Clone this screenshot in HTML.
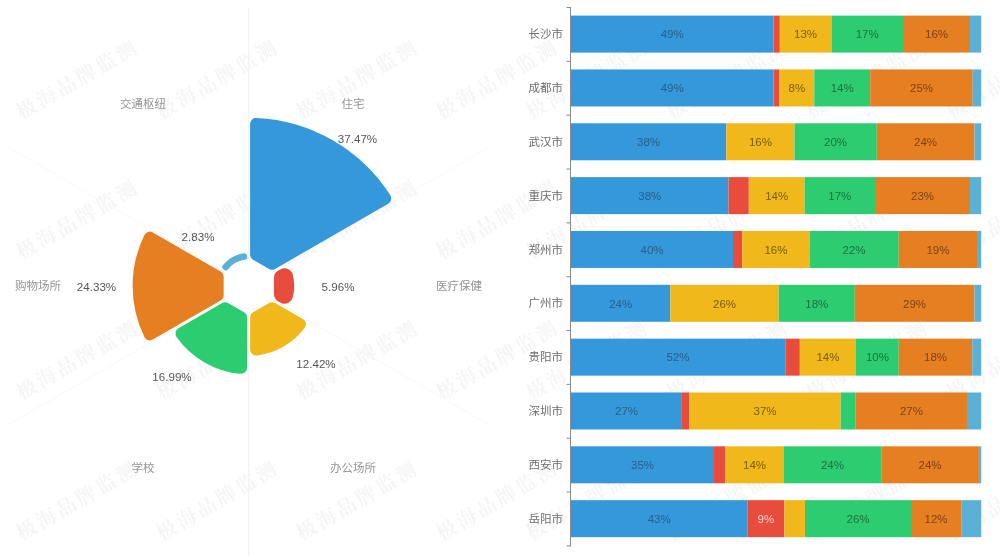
<!DOCTYPE html>
<html lang="zh"><head><meta charset="utf-8"><title>chart</title>
<style>
html,body{margin:0;padding:0;background:#fff;}
body{width:1000px;height:556px;overflow:hidden;font-family:"Liberation Sans","Noto Sans CJK SC",sans-serif;}
svg{display:block}
.cat{font-size:11.5px;fill:#949494;font-family:"Liberation Sans","Noto Sans CJK SC",sans-serif;}
.val{font-size:11.6px;fill:#555;font-family:"Liberation Sans","Noto Sans CJK SC",sans-serif;}
.city{font-size:11.5px;fill:#6e6e6e;font-family:"Liberation Sans","Noto Sans CJK SC",sans-serif;}
.bl{font-size:11.5px;font-family:"Liberation Sans","Noto Sans CJK SC",sans-serif;}
.wm{font-size:20px;fill:#f5f5f5;font-weight:700;font-family:"Liberation Serif","Noto Serif CJK SC",serif;letter-spacing:3px}
</style></head><body>
<svg width="1000" height="556" viewBox="0 0 1000 556">
<rect width="1000" height="556" fill="#fff"/>
<g><text x="81" y="85.5" text-anchor="middle" class="wm" transform="rotate(-30 81 85.5)">极海品牌监测</text><text x="81" y="225.8" text-anchor="middle" class="wm" transform="rotate(-30 81 225.8)">极海品牌监测</text><text x="81" y="366.1" text-anchor="middle" class="wm" transform="rotate(-30 81 366.1)">极海品牌监测</text><text x="81" y="506.40000000000003" text-anchor="middle" class="wm" transform="rotate(-30 81 506.40000000000003)">极海品牌监测</text><text x="221" y="85.5" text-anchor="middle" class="wm" transform="rotate(-30 221 85.5)">极海品牌监测</text><text x="221" y="225.8" text-anchor="middle" class="wm" transform="rotate(-30 221 225.8)">极海品牌监测</text><text x="221" y="366.1" text-anchor="middle" class="wm" transform="rotate(-30 221 366.1)">极海品牌监测</text><text x="221" y="506.40000000000003" text-anchor="middle" class="wm" transform="rotate(-30 221 506.40000000000003)">极海品牌监测</text><text x="361" y="85.5" text-anchor="middle" class="wm" transform="rotate(-30 361 85.5)">极海品牌监测</text><text x="361" y="225.8" text-anchor="middle" class="wm" transform="rotate(-30 361 225.8)">极海品牌监测</text><text x="361" y="366.1" text-anchor="middle" class="wm" transform="rotate(-30 361 366.1)">极海品牌监测</text><text x="361" y="506.40000000000003" text-anchor="middle" class="wm" transform="rotate(-30 361 506.40000000000003)">极海品牌监测</text><text x="501" y="85.5" text-anchor="middle" class="wm" transform="rotate(-30 501 85.5)">极海品牌监测</text><text x="501" y="225.8" text-anchor="middle" class="wm" transform="rotate(-30 501 225.8)">极海品牌监测</text><text x="501" y="366.1" text-anchor="middle" class="wm" transform="rotate(-30 501 366.1)">极海品牌监测</text><text x="501" y="506.40000000000003" text-anchor="middle" class="wm" transform="rotate(-30 501 506.40000000000003)">极海品牌监测</text><text x="591" y="85.5" text-anchor="middle" class="wm" transform="rotate(-30 591 85.5)">极海品牌监测</text><text x="591" y="225.8" text-anchor="middle" class="wm" transform="rotate(-30 591 225.8)">极海品牌监测</text><text x="591" y="366.1" text-anchor="middle" class="wm" transform="rotate(-30 591 366.1)">极海品牌监测</text><text x="591" y="506.40000000000003" text-anchor="middle" class="wm" transform="rotate(-30 591 506.40000000000003)">极海品牌监测</text><text x="731" y="85.5" text-anchor="middle" class="wm" transform="rotate(-30 731 85.5)">极海品牌监测</text><text x="731" y="225.8" text-anchor="middle" class="wm" transform="rotate(-30 731 225.8)">极海品牌监测</text><text x="731" y="366.1" text-anchor="middle" class="wm" transform="rotate(-30 731 366.1)">极海品牌监测</text><text x="731" y="506.40000000000003" text-anchor="middle" class="wm" transform="rotate(-30 731 506.40000000000003)">极海品牌监测</text><text x="871" y="85.5" text-anchor="middle" class="wm" transform="rotate(-30 871 85.5)">极海品牌监测</text><text x="871" y="225.8" text-anchor="middle" class="wm" transform="rotate(-30 871 225.8)">极海品牌监测</text><text x="871" y="366.1" text-anchor="middle" class="wm" transform="rotate(-30 871 366.1)">极海品牌监测</text><text x="871" y="506.40000000000003" text-anchor="middle" class="wm" transform="rotate(-30 871 506.40000000000003)">极海品牌监测</text><text x="1011" y="85.5" text-anchor="middle" class="wm" transform="rotate(-30 1011 85.5)">极海品牌监测</text><text x="1011" y="225.8" text-anchor="middle" class="wm" transform="rotate(-30 1011 225.8)">极海品牌监测</text><text x="1011" y="366.1" text-anchor="middle" class="wm" transform="rotate(-30 1011 366.1)">极海品牌监测</text><text x="1011" y="506.40000000000003" text-anchor="middle" class="wm" transform="rotate(-30 1011 506.40000000000003)">极海品牌监测</text></g>
<g><line x1="271.4" y1="272.9" x2="488.5" y2="147.5" stroke="#f8f8f8" stroke-width="1"/><line x1="271.4" y1="299.1" x2="488.5" y2="424.5" stroke="#f8f8f8" stroke-width="1"/><line x1="225.8" y1="299.2" x2="8.7" y2="424.5" stroke="#f8f8f8" stroke-width="1"/><line x1="225.8" y1="272.9" x2="8.7" y2="147.5" stroke="#f8f8f8" stroke-width="1"/><line x1="248.6" y1="8" x2="248.6" y2="259.7" stroke="#f2f2f2" stroke-width="1"/><line x1="248.6" y1="312.3" x2="248.6" y2="556" stroke="#f2f2f2" stroke-width="1"/><path d="M256.10 123.87 A162.30 162.30 0 0 1 385.26 198.44 L272.06 263.80 L256.10 254.58 Z" fill="#3498db" stroke="#3498db" stroke-width="12.0" stroke-linejoin="round"/><path d="M284.54 276.80 A37.10 37.10 0 0 1 284.54 295.20 L282.47 294.01 L282.47 277.99 Z" fill="#e74c3c" stroke="#e74c3c" stroke-width="17.0" stroke-linejoin="round"/><path d="M299.89 324.27 A64.00 64.00 0 0 1 256.10 349.56 L256.10 317.42 L272.06 308.20 Z" fill="#f1b81b" stroke="#f1b81b" stroke-width="12.0" stroke-linejoin="round"/><path d="M241.10 367.86 A82.20 82.20 0 0 1 181.46 333.42 L225.14 308.20 L241.10 317.42 Z" fill="#2ecc71" stroke="#2ecc71" stroke-width="12.0" stroke-linejoin="round"/><path d="M149.81 334.38 A110.00 110.00 0 0 1 149.81 237.62 L217.64 276.79 L217.64 295.21 Z" fill="#e67e22" stroke="#e67e22" stroke-width="12.0" stroke-linejoin="round"/><path d="M225.61 267.04 A29.8 29.8 0 0 1 243.94 256.57" fill="none" stroke="#5bb0d8" stroke-width="6.6" stroke-linecap="round"/></g>
<g><text x="143" y="108" text-anchor="middle" class="cat">交通枢纽</text><text x="353" y="108" text-anchor="middle" class="cat">住宅</text><text x="459" y="290" text-anchor="middle" class="cat">医疗保健</text><text x="353" y="472" text-anchor="middle" class="cat">办公场所</text><text x="143" y="472" text-anchor="middle" class="cat">学校</text><text x="38" y="290" text-anchor="middle" class="cat">购物场所</text><text x="357.5" y="143" text-anchor="middle" class="val">37.47%</text><text x="198" y="240.5" text-anchor="middle" class="val">2.83%</text><text x="96.5" y="290.5" text-anchor="middle" class="val">24.33%</text><text x="338" y="290.5" text-anchor="middle" class="val">5.96%</text><text x="316" y="367.5" text-anchor="middle" class="val">12.42%</text><text x="172" y="380.5" text-anchor="middle" class="val">16.99%</text></g>
<g><rect x="571.0" y="15.60" width="202.5" height="37.0" fill="#3498db"/><text x="672.2" y="38.3" text-anchor="middle" class="bl" fill="#2a5f88">49%</text><rect x="773.5" y="15.60" width="6.3" height="37.0" fill="#e74c3c"/><rect x="779.8" y="15.60" width="51.7" height="37.0" fill="#f1b81b"/><text x="805.6" y="38.3" text-anchor="middle" class="bl" fill="#7a5c10">13%</text><rect x="831.5" y="15.60" width="71.5" height="37.0" fill="#2ecc71"/><text x="867.2" y="38.3" text-anchor="middle" class="bl" fill="#1d6f40">17%</text><rect x="903.0" y="15.60" width="67.0" height="37.0" fill="#e67e22"/><text x="936.5" y="38.3" text-anchor="middle" class="bl" fill="#7c4515">16%</text><rect x="970.0" y="15.60" width="11.2" height="37.0" fill="#5bb0d8"/><rect x="571.0" y="69.44" width="202.5" height="37.0" fill="#3498db"/><text x="672.2" y="92.1" text-anchor="middle" class="bl" fill="#2a5f88">49%</text><rect x="773.5" y="69.44" width="5.8" height="37.0" fill="#e74c3c"/><rect x="779.3" y="69.44" width="35.0" height="37.0" fill="#f1b81b"/><text x="796.8" y="92.1" text-anchor="middle" class="bl" fill="#7a5c10">8%</text><rect x="814.3" y="69.44" width="55.9" height="37.0" fill="#2ecc71"/><text x="842.2" y="92.1" text-anchor="middle" class="bl" fill="#1d6f40">14%</text><rect x="870.2" y="69.44" width="102.5" height="37.0" fill="#e67e22"/><text x="921.5" y="92.1" text-anchor="middle" class="bl" fill="#7c4515">25%</text><rect x="972.7" y="69.44" width="8.5" height="37.0" fill="#5bb0d8"/><rect x="571.0" y="123.28" width="155.3" height="37.0" fill="#3498db"/><text x="648.6" y="146.0" text-anchor="middle" class="bl" fill="#2a5f88">38%</text><rect x="726.3" y="123.28" width="68.2" height="37.0" fill="#f1b81b"/><text x="760.4" y="146.0" text-anchor="middle" class="bl" fill="#7a5c10">16%</text><rect x="794.5" y="123.28" width="82.3" height="37.0" fill="#2ecc71"/><text x="835.6" y="146.0" text-anchor="middle" class="bl" fill="#1d6f40">20%</text><rect x="876.8" y="123.28" width="97.7" height="37.0" fill="#e67e22"/><text x="925.6" y="146.0" text-anchor="middle" class="bl" fill="#7c4515">24%</text><rect x="974.5" y="123.28" width="6.7" height="37.0" fill="#5bb0d8"/><rect x="571.0" y="177.12" width="157.5" height="37.0" fill="#3498db"/><text x="649.8" y="199.8" text-anchor="middle" class="bl" fill="#2a5f88">38%</text><rect x="728.5" y="177.12" width="20.3" height="37.0" fill="#e74c3c"/><rect x="748.8" y="177.12" width="55.8" height="37.0" fill="#f1b81b"/><text x="776.7" y="199.8" text-anchor="middle" class="bl" fill="#7a5c10">14%</text><rect x="804.6" y="177.12" width="70.4" height="37.0" fill="#2ecc71"/><text x="839.8" y="199.8" text-anchor="middle" class="bl" fill="#1d6f40">17%</text><rect x="875.0" y="177.12" width="95.0" height="37.0" fill="#e67e22"/><text x="922.5" y="199.8" text-anchor="middle" class="bl" fill="#7c4515">23%</text><rect x="970.0" y="177.12" width="11.2" height="37.0" fill="#5bb0d8"/><rect x="571.0" y="230.96" width="162.0" height="37.0" fill="#3498db"/><text x="652.0" y="253.7" text-anchor="middle" class="bl" fill="#2a5f88">40%</text><rect x="733.0" y="230.96" width="9.2" height="37.0" fill="#e74c3c"/><rect x="742.2" y="230.96" width="67.3" height="37.0" fill="#f1b81b"/><text x="775.9" y="253.7" text-anchor="middle" class="bl" fill="#7a5c10">16%</text><rect x="809.5" y="230.96" width="89.3" height="37.0" fill="#2ecc71"/><text x="854.1" y="253.7" text-anchor="middle" class="bl" fill="#1d6f40">22%</text><rect x="898.8" y="230.96" width="78.2" height="37.0" fill="#e67e22"/><text x="937.9" y="253.7" text-anchor="middle" class="bl" fill="#7c4515">19%</text><rect x="977.0" y="230.96" width="4.2" height="37.0" fill="#5bb0d8"/><rect x="571.0" y="284.80" width="99.4" height="37.0" fill="#3498db"/><text x="620.7" y="307.5" text-anchor="middle" class="bl" fill="#2a5f88">24%</text><rect x="670.4" y="284.80" width="108.3" height="37.0" fill="#f1b81b"/><text x="724.5" y="307.5" text-anchor="middle" class="bl" fill="#7a5c10">26%</text><rect x="778.7" y="284.80" width="76.1" height="37.0" fill="#2ecc71"/><text x="816.8" y="307.5" text-anchor="middle" class="bl" fill="#1d6f40">18%</text><rect x="854.8" y="284.80" width="119.7" height="37.0" fill="#e67e22"/><text x="914.6" y="307.5" text-anchor="middle" class="bl" fill="#7c4515">29%</text><rect x="974.5" y="284.80" width="6.7" height="37.0" fill="#5bb0d8"/><rect x="571.0" y="338.64" width="214.3" height="37.0" fill="#3498db"/><text x="678.1" y="361.3" text-anchor="middle" class="bl" fill="#2a5f88">52%</text><rect x="785.3" y="338.64" width="14.5" height="37.0" fill="#e74c3c"/><rect x="799.8" y="338.64" width="56.2" height="37.0" fill="#f1b81b"/><text x="827.9" y="361.3" text-anchor="middle" class="bl" fill="#7a5c10">14%</text><rect x="856.0" y="338.64" width="42.8" height="37.0" fill="#2ecc71"/><text x="877.4" y="361.3" text-anchor="middle" class="bl" fill="#1d6f40">10%</text><rect x="898.8" y="338.64" width="73.5" height="37.0" fill="#e67e22"/><text x="935.5" y="361.3" text-anchor="middle" class="bl" fill="#7c4515">18%</text><rect x="972.3" y="338.64" width="8.9" height="37.0" fill="#5bb0d8"/><rect x="571.0" y="392.48" width="110.9" height="37.0" fill="#3498db"/><text x="626.5" y="415.2" text-anchor="middle" class="bl" fill="#2a5f88">27%</text><rect x="681.9" y="392.48" width="7.5" height="37.0" fill="#e74c3c"/><rect x="689.4" y="392.48" width="151.3" height="37.0" fill="#f1b81b"/><text x="765.0" y="415.2" text-anchor="middle" class="bl" fill="#7a5c10">37%</text><rect x="840.7" y="392.48" width="15.0" height="37.0" fill="#2ecc71"/><rect x="855.7" y="392.48" width="111.3" height="37.0" fill="#e67e22"/><text x="911.4" y="415.2" text-anchor="middle" class="bl" fill="#7c4515">27%</text><rect x="967.0" y="392.48" width="14.2" height="37.0" fill="#5bb0d8"/><rect x="571.0" y="446.32" width="143.0" height="37.0" fill="#3498db"/><text x="642.5" y="469.0" text-anchor="middle" class="bl" fill="#2a5f88">35%</text><rect x="714.0" y="446.32" width="11.4" height="37.0" fill="#e74c3c"/><rect x="725.4" y="446.32" width="58.1" height="37.0" fill="#f1b81b"/><text x="754.5" y="469.0" text-anchor="middle" class="bl" fill="#7a5c10">14%</text><rect x="783.5" y="446.32" width="97.7" height="37.0" fill="#2ecc71"/><text x="832.4" y="469.0" text-anchor="middle" class="bl" fill="#1d6f40">24%</text><rect x="881.2" y="446.32" width="97.7" height="37.0" fill="#e67e22"/><text x="930.0" y="469.0" text-anchor="middle" class="bl" fill="#7c4515">24%</text><rect x="978.9" y="446.32" width="2.3" height="37.0" fill="#5bb0d8"/><rect x="571.0" y="500.16" width="176.4" height="37.0" fill="#3498db"/><text x="659.2" y="522.9" text-anchor="middle" class="bl" fill="#2a5f88">43%</text><rect x="747.4" y="500.16" width="37.0" height="37.0" fill="#e74c3c"/><text x="765.9" y="522.9" text-anchor="middle" class="bl" fill="#fbd5d0">9%</text><rect x="784.4" y="500.16" width="20.6" height="37.0" fill="#f1b81b"/><rect x="805.0" y="500.16" width="106.0" height="37.0" fill="#2ecc71"/><text x="858.0" y="522.9" text-anchor="middle" class="bl" fill="#1d6f40">26%</text><rect x="911.0" y="500.16" width="50.3" height="37.0" fill="#e67e22"/><text x="936.1" y="522.9" text-anchor="middle" class="bl" fill="#7c4515">12%</text><rect x="961.3" y="500.16" width="19.9" height="37.0" fill="#5bb0d8"/></g>
<g><line x1="570.5" y1="7.5" x2="570.5" y2="546.5" stroke="#8a8a8a" stroke-width="1"/><line x1="566.5" y1="7.50" x2="571" y2="7.50" stroke="#8a8a8a" stroke-width="1"/><line x1="566.5" y1="61.34" x2="571" y2="61.34" stroke="#8a8a8a" stroke-width="1"/><line x1="566.5" y1="115.18" x2="571" y2="115.18" stroke="#8a8a8a" stroke-width="1"/><line x1="566.5" y1="169.02" x2="571" y2="169.02" stroke="#8a8a8a" stroke-width="1"/><line x1="566.5" y1="222.86" x2="571" y2="222.86" stroke="#8a8a8a" stroke-width="1"/><line x1="566.5" y1="276.70" x2="571" y2="276.70" stroke="#8a8a8a" stroke-width="1"/><line x1="566.5" y1="330.54" x2="571" y2="330.54" stroke="#8a8a8a" stroke-width="1"/><line x1="566.5" y1="384.38" x2="571" y2="384.38" stroke="#8a8a8a" stroke-width="1"/><line x1="566.5" y1="438.22" x2="571" y2="438.22" stroke="#8a8a8a" stroke-width="1"/><line x1="566.5" y1="492.06" x2="571" y2="492.06" stroke="#8a8a8a" stroke-width="1"/><line x1="566.5" y1="545.90" x2="571" y2="545.90" stroke="#8a8a8a" stroke-width="1"/></g>
<g><text x="563" y="38.1" text-anchor="end" class="city">长沙市</text><text x="563" y="91.9" text-anchor="end" class="city">成都市</text><text x="563" y="145.8" text-anchor="end" class="city">武汉市</text><text x="563" y="199.6" text-anchor="end" class="city">重庆市</text><text x="563" y="253.5" text-anchor="end" class="city">郑州市</text><text x="563" y="307.3" text-anchor="end" class="city">广州市</text><text x="563" y="361.1" text-anchor="end" class="city">贵阳市</text><text x="563" y="415.0" text-anchor="end" class="city">深圳市</text><text x="563" y="468.8" text-anchor="end" class="city">西安市</text><text x="563" y="522.7" text-anchor="end" class="city">岳阳市</text></g>
</svg>
</body></html>
